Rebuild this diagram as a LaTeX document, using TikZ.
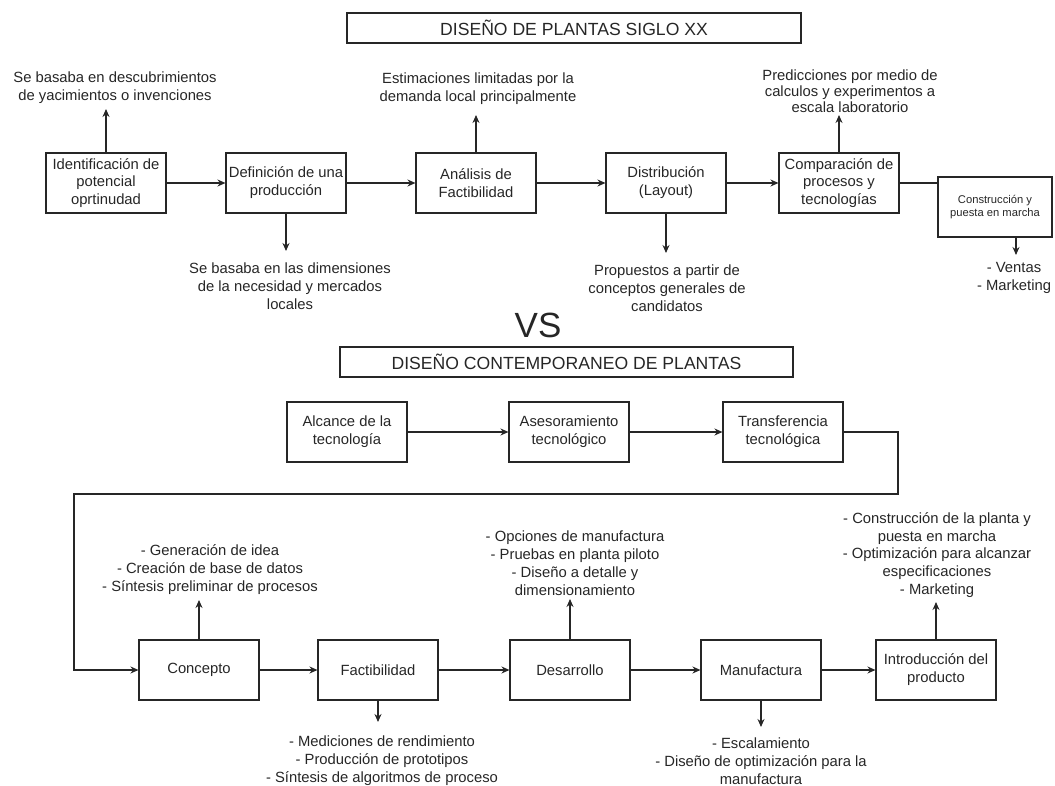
\documentclass[tikz,border=0pt]{standalone}
\usepackage{fontspec}
\setmainfont{Liberation Sans}
\usetikzlibrary{arrows.meta}
\tikzset{every node/.style={font=\fontsize{14.8}{17.9}\selectfont, text=textcol}}
\colorlet{linecol}{black!85}
\colorlet{textcol}{black!85}

\begin{document}
\begin{tikzpicture}[x=1pt, y=-1pt, >={Stealth[length=8pt,width=7pt]},
  box/.style={draw=linecol, line width=1.1pt, minimum width=120pt, minimum height=60pt, align=center, inner sep=2pt},
  note/.style={align=center, inner sep=5pt},
  title/.style={draw=linecol, line width=1.1pt, minimum height=30pt, font=\fontsize{17.6}{20}\selectfont},
  link/.style={->, line width=1.1pt, linecol},
  plain/.style={line width=1.1pt, linecol}]

  \useasboundingbox (0,0) rectangle (1055,786);

  % Titles.
  \node[title, minimum width=454pt] (tit1) at (574,28) {DISEÑO DE PLANTAS SIGLO XX};
  \node[font=\fontsize{35}{40}\selectfont] (vs) at (538,325) {VS};
  \node[title, minimum width=453pt] (tit2) at (566.5,362) {DISEÑO CONTEMPORANEO DE PLANTAS};

  % Siglo XX -- boxes.
  \node[box] (ident) at (106,183) {Identificación de\\potencial\\oprtinudad};
  \node[box] (defin) at (286,183) {Definición de una\\producción};
  \node[box] (analis) at (476,183) {Análisis de\\Factibilidad};
  \node[box] (distrib) at (666,183) {Distribución\\(Layout)};
  \node[box] (compar) at (839,183) {Comparación de\\procesos y\\tecnologías};
  \node[box, minimum width=114pt, font=\fontsize{11.2}{13.4}\selectfont] (constr) at (995,207) {Construcción y\\puesta en marcha};

  % Siglo XX -- notes.
  \node[note, anchor=south] (n_ident) at (115,109) {Se basaba en descubrimientos\\de yacimientos o invenciones};
  \node[note, anchor=north, inner sep=12pt] (n_defin) at (290,251) {Se basaba en las dimensiones\\de la necesidad y mercados\\locales};
  \node[note, anchor=south, inner sep=10pt] (n_analis) at (478,115) {Estimaciones limitadas por la\\demanda local principalmente};
  \node[note, anchor=north, inner sep=12pt] (n_distrib) at (667,253) {Propuestos a partir de\\conceptos generales de\\candidatos};
  \node[note, anchor=south, inner sep=2pt, font=\fontsize{14.8}{16.2}\selectfont] (n_compar) at (850,115) {Predicciones por medio de\\calculos y experimentos a\\escala laboratorio};
  \node[note, anchor=north, inner sep=7pt] (n_constr) at (1014,255) {- Ventas\\- Marketing};

  % Siglo XX -- connectors.
  \draw[link] (ident) -- (defin);
  \draw[link] (defin) -- (analis);
  \draw[link] (analis) -- (distrib);
  \draw[link] (distrib) -- (compar);
  \draw[plain] (compar.east) -- (compar.east -| constr.west);
  \draw[link] (ident.north) -- (ident.north |- n_ident.south);
  \draw[link] (defin.south) -- (defin.south |- n_defin.north);
  \draw[link] (analis.north) -- (analis.north |- n_analis.south);
  \draw[link] (distrib.south) -- (distrib.south |- n_distrib.north);
  \draw[link] (compar.north) -- (compar.north |- n_compar.south);
  \draw[link] ([xshift=21pt]constr.south) -- ([xshift=21pt]constr.south |- n_constr.north);

  % Contemporaneo -- first row.
  \node[box] (alcance) at (347,432) {Alcance de la\\tecnología};
  \node[box] (asesor) at (569,432) {Asesoramiento\\tecnológico};
  \node[box] (transf) at (783,432) {Transferencia\\tecnológica};

  \draw[link] (alcance) -- (asesor);
  \draw[link] (asesor) -- (transf);

  % Contemporaneo -- second row.
  \node[box] (concepto) at (199,670) {Concepto};
  \node[box] (factib) at (378,670) {Factibilidad};
  \node[box] (desarr) at (570,670) {Desarrollo};
  \node[box] (manuf) at (761,670) {Manufactura};
  \node[box] (introd) at (936,670) {Introducción del\\producto};

  % Return line.
  \coordinate (turn1) at (898,494);
  \coordinate (turn2) at (74,494);
  \draw[link] (transf.east) -| (turn1) -- (turn2) |- (concepto.west);

  \draw[link] (concepto) -- (factib);
  \draw[link] (factib) -- (desarr);
  \draw[link] (desarr) -- (manuf);
  \draw[link] (manuf) -- (introd);

  % Contemporaneo -- notes.
  \node[note, anchor=south] (n_concepto) at (210,600) {- Generación de idea\\- Creación de base de datos\\- Síntesis preliminar de procesos};
  \node[note, anchor=north, inner sep=14pt] (n_factib) at (382,722) {- Mediciones de rendimiento\\- Producción de prototipos\\- Síntesis de algoritmos de proceso};
  \node[note, anchor=south, inner sep=3pt] (n_desarr) at (575,599) {- Opciones de manufactura\\- Pruebas en planta piloto\\- Diseño a detalle y\\dimensionamiento};
  \node[note, anchor=north, inner sep=11pt] (n_manuf) at (761,727) {- Escalamiento\\- Diseño de optimización para la\\manufactura};
  \node[note, anchor=south, inner sep=4pt] (n_introd) at (937,602) {- Construcción de la planta y\\puesta en marcha\\- Optimización para alcanzar\\especificaciones\\- Marketing};

  \draw[link] (concepto.north) -- (concepto.north |- n_concepto.south);
  \draw[link] (factib.south) -- (factib.south |- n_factib.north);
  \draw[link] (desarr.north) -- (desarr.north |- n_desarr.south);
  \draw[link] (manuf.south) -- (manuf.south |- n_manuf.north);
  \draw[link] (introd.north) -- (introd.north |- n_introd.south);

\end{tikzpicture}
\end{document}
